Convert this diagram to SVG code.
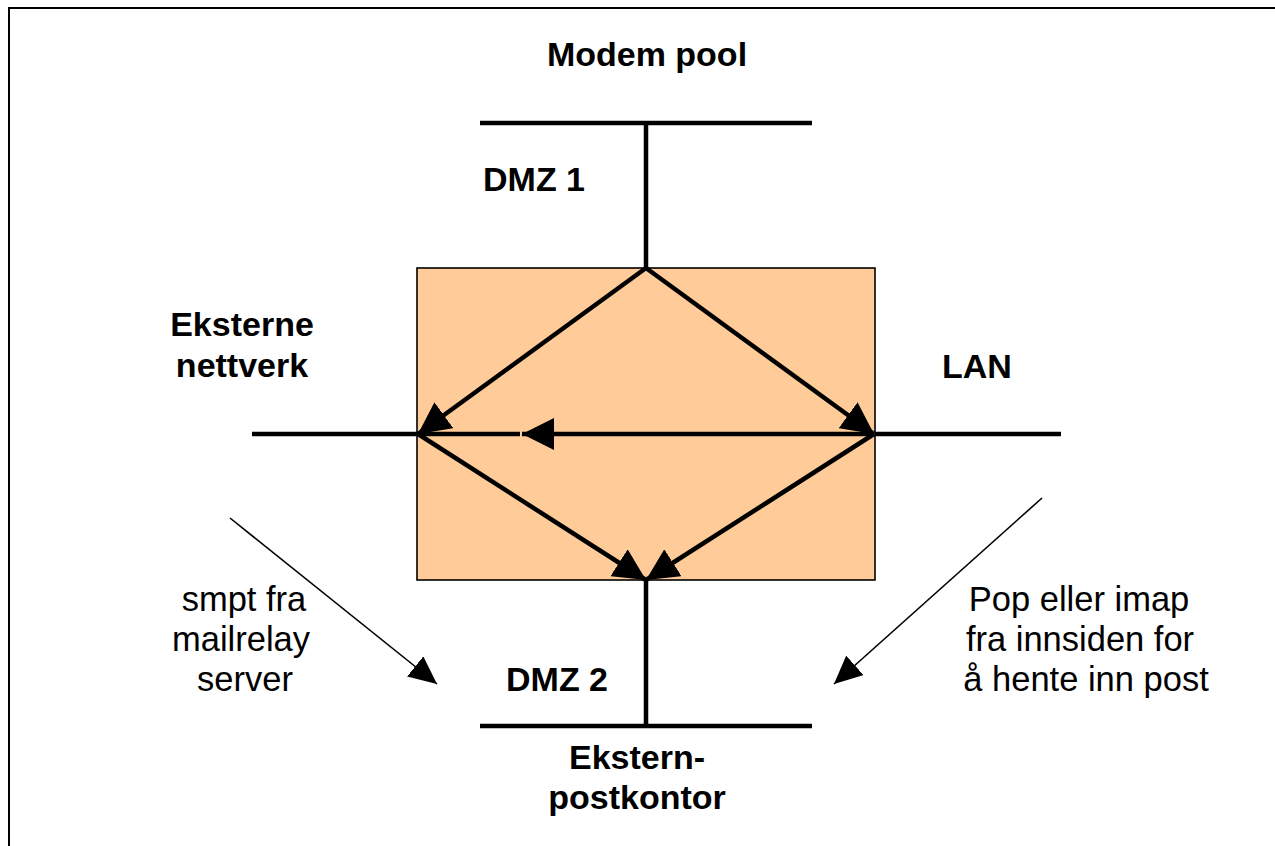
<svg xmlns="http://www.w3.org/2000/svg" width="1275" height="846" viewBox="0 0 1275 846">
  <style>
    .bus { stroke: #000; stroke-width: 4.5; fill: none; }
    .flow { stroke: #000; stroke-width: 4.5; fill: none; marker-end: url(#headBig); }
    .thin { stroke: #000; stroke-width: 1.6; fill: none; marker-end: url(#headSmall); }
    .lbl { font-family: "Liberation Sans", Arial, sans-serif; font-size: 34px; font-weight: bold; fill: #000; text-anchor: middle; }
    .note { font-family: "Liberation Sans", Arial, sans-serif; font-size: 34.5px; fill: #000; text-anchor: middle; }
  </style>
  <defs>
    <marker id="headBig" markerUnits="userSpaceOnUse" markerWidth="32" markerHeight="32" refX="32" refY="16" orient="auto">
      <path d="M0,0 L32,16 L0,32 Z" fill="#000"/>
    </marker>
    <marker id="headSmall" markerUnits="userSpaceOnUse" markerWidth="28" markerHeight="26" refX="28" refY="13" orient="auto">
      <path d="M0,0 L28,13 L0,26 Z" fill="#000"/>
    </marker>
  </defs>

  <rect width="1275" height="846" fill="#fff"/>
  <!-- page frame -->
  <path d="M9,846 V8 H1275" stroke="#000" stroke-width="2" fill="none"/>

  <!-- firewall box -->
  <g id="firewall">
    <rect x="417" y="268" width="458" height="312" fill="#FFCC99" stroke="#000" stroke-width="1.6"/>
  </g>

  <!-- network segments -->
  <g id="modem-pool">
    <line class="bus" x1="480" y1="123" x2="812" y2="123"/>
    <text class="lbl" x="647" y="66">Modem pool</text>
    <text class="lbl" x="534" y="191">DMZ 1</text>
  </g>
  <g id="eksterne-nettverk">
    <line class="bus" x1="252" y1="434" x2="520" y2="434"/>
    <text class="lbl" x="242" y="336">Eksterne</text>
    <text class="lbl" x="242" y="377">nettverk</text>
  </g>
  <g id="lan">
    <line class="bus" x1="875" y1="434" x2="1061" y2="434"/>
    <text class="lbl" x="977" y="378">LAN</text>
  </g>
  <g id="ekstern-postkontor">
    <line class="bus" x1="480" y1="726" x2="812" y2="726"/>
    <text class="lbl" x="557" y="691">DMZ 2</text>
    <text class="lbl" x="637" y="769">Ekstern-</text>
    <text class="lbl" x="637" y="809">postkontor</text>
  </g>

  <!-- notes -->
  <g id="note-smtp">
    <text class="note" x="244" y="611">smpt fra</text>
    <text class="note" x="241" y="651">mailrelay</text>
    <text class="note" x="245" y="691">server</text>
  </g>
  <g id="note-pop">
    <text class="note" x="1079" y="611">Pop eller imap</text>
    <text class="note" x="1080" y="651">fra innsiden for</text>
    <text class="note" x="1086" y="691">å hente inn post</text>
  </g>

  <!-- connectors -->
  <g id="connectors">
    <line class="bus" x1="646" y1="123" x2="646" y2="268"/>
    <line class="bus" x1="646" y1="580" x2="646" y2="726"/>
    <line class="flow" x1="646" y1="268" x2="418" y2="434"/>
    <line class="flow" x1="646" y1="268" x2="874" y2="434"/>
    <line class="flow" x1="874" y1="434" x2="522" y2="434"/>
    <line class="flow" x1="418" y1="434" x2="646" y2="580"/>
    <line class="flow" x1="874" y1="434" x2="646" y2="580"/>
    <line class="thin" x1="230" y1="518" x2="437" y2="684"/>
    <line class="thin" x1="1042" y1="498" x2="834" y2="684"/>
  </g>
</svg>
